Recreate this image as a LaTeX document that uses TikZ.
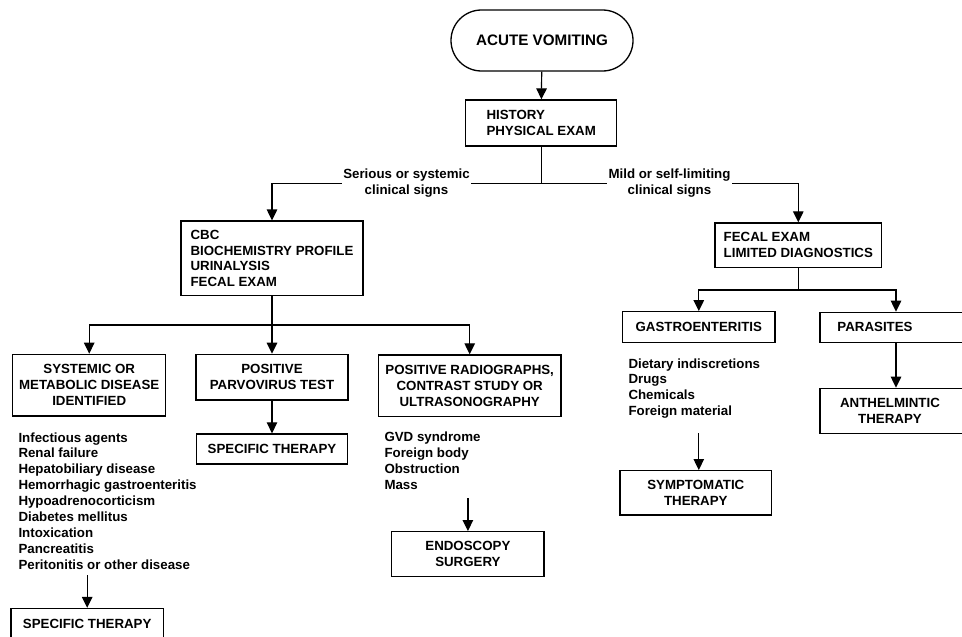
\documentclass[tikz,border=0pt]{standalone}
\usepackage{fontspec}
\setmainfont{Liberation Sans}
\usetikzlibrary{arrows.meta,shapes.misc}
\begin{document}
\begin{tikzpicture}[x=1pt,y=-1pt,
  every node/.style={font=\bfseries\fontsize{13.3}{15.9}\selectfont, inner sep=0pt},
  box/.style={draw, line width=1.3pt, rectangle},
  lst/.style={align=left, anchor=north west},
  arr/.style={line width=1.2pt, -{Triangle[width=10.5pt,length=11pt]}},
  ln/.style={line width=1.2pt},
  lbl/.style={fill=white, align=center, inner xsep=1.5pt, inner ysep=0pt}
]
\useasboundingbox (0,0) rectangle (962,637);
\clip (0,0) rectangle (962,637);

% boxes
\node[box, rounded rectangle, minimum width=182pt, minimum height=61pt,
      font=\bfseries\fontsize{15.2}{18}\selectfont] (start) at (542,40.5) {ACUTE VOMITING};
\node[box, align=left, minimum width=151pt, minimum height=46pt] (hist) at (541.2,123) {HISTORY\\PHYSICAL EXAM};
\node[box, align=left, minimum width=182pt, minimum height=74.7pt] (cbc) at (272,258.4) {CBC\\BIOCHEMISTRY PROFILE\\URINALYSIS\\FECAL EXAM};
\node[box, align=left, minimum width=166.7pt, minimum height=44.7pt] (fecal) at (798.3,245.3) {FECAL EXAM\\LIMITED DIAGNOSTICS};

\node[box, align=center, minimum width=153pt, minimum height=61.7pt] (sys) at (89.2,385.2) {SYSTEMIC OR\\METABOLIC DISEASE\\IDENTIFIED};
\node[box, align=center, minimum width=152pt, minimum height=45.7pt] (parvo) at (272,377.2) {POSITIVE\\PARVOVIRUS TEST};
\node[box, align=center, minimum width=182.7pt, minimum height=61.7pt] (radio) at (469.7,385.8) {POSITIVE RADIOGRAPHS,\\CONTRAST STUDY OR\\ULTRASONOGRAPHY};
\node[box, minimum width=151pt, minimum height=30pt] (spec1) at (272,449) {SPECIFIC THERAPY};
\node[box, align=center, minimum width=152.3pt, minimum height=45pt] (endo) at (467.9,554.2) {ENDOSCOPY\\SURGERY};
\node[box, minimum width=152.3pt, minimum height=31pt] (spec2) at (87.2,624) {SPECIFIC THERAPY};

\node[box, minimum width=152.3pt, minimum height=30.6pt] (gastro) at (698.8,327) {GASTROENTERITIS};
\node[box, minimum width=152pt, minimum height=30pt] (par) at (896,327.3) {};
\node (partxt) at (875,327.3) {PARASITES};
\node[box, minimum width=152pt, minimum height=45pt] (anth) at (896,410.8) {};
\node[align=center] (anthtxt) at (890,411) {ANTHELMINTIC\\THERAPY};
\node[box, align=center, minimum width=151.7pt, minimum height=44.3pt] (symp) at (695.8,492.8) {SYMPTOMATIC\\THERAPY};

% lists
\node[lst] (syslist) at (18.3,432.2) {Infectious agents\\Renal failure\\Hepatobiliary disease\\Hemorrhagic gastroenteritis\\Hypoadrenocorticism\\Diabetes mellitus\\Intoxication\\Pancreatitis\\Peritonitis or other disease};
\node[lst] (gvdlist) at (384.3,431.6) {GVD syndrome\\Foreign body\\Obstruction\\Mass};
\node[lst] (gaslist) at (628.3,358.2) {Dietary indiscretions\\Drugs\\Chemicals\\Foreign material};

% connectors
\draw[arr] (start) -- (hist);
\coordinate (j1) at (541.2,183.3);
\draw[ln] (hist.south) -- (j1);
\draw[arr] (j1) -| (cbc.north);
\draw[arr] (j1) -| (fecal.north);

\coordinate (j2) at (272,325);
\draw[arr] (cbc.south) -- (parvo.north);
\draw[arr] (j2) -| (sys.north);
\draw[arr] (j2) -| (radio.north);
\draw[arr] (parvo.south) -- (spec1.north);

\coordinate (s2top) at (87.2,575);
\draw[arr] (s2top) -- (spec2.north);
\coordinate (entop) at (467.9,498.3);
\draw[arr] (entop) -- (endo.north);

\coordinate (j3) at (798.3,290);
\draw[ln] (fecal.south) -- (j3);
\draw[arr] (j3) -| (gastro.north);
\draw[arr] (j3) -| (par.north);
\draw[arr] (par.south) -- (anth.north);
\coordinate (sytop) at (698.8,433);
\draw[arr] (sytop) -- (symp.north -| sytop);

% branch labels
\node[lbl] (serious) at (406.5,183.3) {Serious or systemic\\clinical signs};
\node[lbl] (mild) at (669.5,183.3) {Mild or self-limiting\\clinical signs};
\end{tikzpicture}
\end{document}
